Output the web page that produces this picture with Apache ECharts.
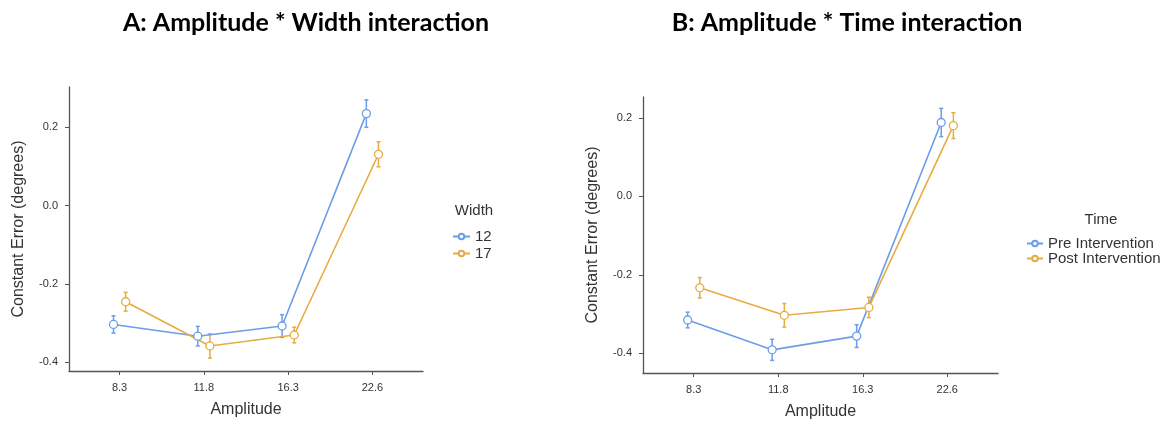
<!DOCTYPE html>
<html>
<head>
<meta charset="utf-8">
<script src="https://cdn.jsdelivr.net/npm/echarts@6/dist/echarts.min.js"></script>
<style>
  html, body { margin: 0; padding: 0; background: #fff; }
  #chart { width: 1173px; height: 421px; }
</style>
</head>
<body>
<div id="chart"></div>
<script>
// amplitude levels on the x axis
const categories = ['8.3', '11.8', '16.3', '22.6']
const yTicks = [-0.4, -0.2, 0, 0.2]

// panel A: Width
const width12Mean = [-0.304, -0.334, -0.308, 0.235]
const width12Err = [0.022, 0.025, 0.029, 0.035]
const width17Mean = [-0.246, -0.359, -0.331, 0.131]
const width17Err = [0.024, 0.031, 0.020, 0.032]

// panel B: Time
const preMean = [-0.315, -0.391, -0.356, 0.188]
const preErr = [0.020, 0.027, 0.029, 0.036]
const postMean = [-0.233, -0.303, -0.283, 0.180]
const postErr = [0.026, 0.030, 0.026, 0.033]

const BLUE = '#6B9DE8'
const ORANGE = '#E6AC40'
const DODGE = 0.072
const FONT = '"Liberation Sans", Arial, sans-serif'

function points(means, shift) {
  return means.map((v, i) => [i + shift, v])
}
function bars(means, errs, shift) {
  return means.map((v, i) => [i + shift, v - errs[i], v + errs[i]])
}

// vertical bar with small caps, drawn under the points
function errorBar(color) {
  return function (params, api) {
    const x = api.value(0)
    const lo = api.coord([x, api.value(1)])
    const hi = api.coord([x, api.value(2)])
    const w = 2
    const st = { stroke: color, lineWidth: 1.5 }
    return {
      type: 'group',
      children: [
        { type: 'line', shape: { x1: lo[0], y1: lo[1], x2: hi[0], y2: hi[1] }, style: st },
        { type: 'line', shape: { x1: lo[0] - w, y1: lo[1], x2: lo[0] + w, y2: lo[1] }, style: st },
        { type: 'line', shape: { x1: hi[0] - w, y1: hi[1], x2: hi[0] + w, y2: hi[1] }, style: st },
      ],
    }
  }
}

function lineSeries(name, idx, data, color) {
  return {
    name: name,
    type: 'line',
    xAxisIndex: idx,
    yAxisIndex: idx,
    data: data,
    z: 3,
    symbol: 'circle',
    symbolSize: 8,
    lineStyle: { color: color, width: 1.6 },
    itemStyle: { color: '#fff', borderColor: color, borderWidth: 1.3 },
    emphasis: { disabled: true },
  }
}

function barSeries(idx, data, color) {
  return {
    type: 'custom',
    xAxisIndex: idx,
    yAxisIndex: idx,
    data: data,
    z: 2,
    encode: { x: 0, y: [1, 2] },
    renderItem: errorBar(color),
  }
}

function xAxis(idx) {
  return {
    type: 'value',
    gridIndex: idx,
    min: -0.6,
    max: 3.6,
    name: 'Amplitude',
    nameLocation: 'middle',
    nameGap: 31,
    nameTextStyle: { fontFamily: FONT, fontSize: 16, color: '#333' },
    splitLine: { show: false },
    axisLine: { onZero: false, lineStyle: { color: '#555', width: 1.3 } },
    axisTick: { customValues: [0, 1, 2, 3], length: 4, lineStyle: { color: '#555' } },
    axisLabel: {
      customValues: [0, 1, 2, 3],
      formatter: (v) => categories[Math.round(v)],
      margin: 11,
      fontFamily: FONT,
      fontSize: 11,
      color: '#333',
    },
  }
}

function yAxis(idx, min, max) {
  return {
    type: 'value',
    gridIndex: idx,
    min: min,
    max: max,
    name: 'Constant Error (degrees)',
    nameLocation: 'middle',
    nameGap: 42,
    nameTextStyle: { fontFamily: FONT, fontSize: 16, color: '#333' },
    splitLine: { show: false },
    axisLine: { show: true, onZero: false, lineStyle: { color: '#555', width: 1.3 } },
    axisTick: { show: true, customValues: yTicks, length: 4, lineStyle: { color: '#555' } },
    axisLabel: {
      customValues: yTicks,
      formatter: (v) => v.toFixed(1),
      margin: 11,
      fontFamily: FONT,
      fontSize: 11,
      color: '#333',
    },
  }
}

const chart = echarts.init(document.getElementById('chart'))

const option = {
  animation: false,
  backgroundColor: '#fff',
  title: [
    { text: 'A: Amplitude * Width interaction', left: 301, top: 5, textAlign: 'center',
      textStyle: { fontFamily: 'Lato, sans-serif', fontWeight: 'bold', fontSize: 25, color: '#000' } },
    { text: 'B: Amplitude * Time interaction', left: 842, top: 5, textAlign: 'center',
      textStyle: { fontFamily: 'Lato, sans-serif', fontWeight: 'bold', fontSize: 25, color: '#000' } },
    { text: 'Width', left: 469, top: 198, textAlign: 'center',
      textStyle: { fontFamily: FONT, fontWeight: 'normal', fontSize: 15, color: '#333' } },
    { text: 'Time', left: 1096, top: 207, textAlign: 'center',
      textStyle: { fontFamily: FONT, fontWeight: 'normal', fontSize: 15, color: '#333' } },
  ],
  legend: [
    {
      data: ['12', '17'],
      orient: 'vertical',
      left: 447,
      top: 224,
      itemWidth: 17,
      itemHeight: 7,
      itemGap: 2,
      textStyle: { fontFamily: FONT, fontSize: 15, color: '#333' },
    },
    {
      data: ['Pre Intervention', 'Post Intervention'],
      orient: 'vertical',
      left: 1021,
      top: 231,
      itemWidth: 16,
      itemHeight: 7,
      itemGap: 0,
      textStyle: { fontFamily: FONT, fontSize: 15, color: '#333', lineHeight: 14 },
    },
  ],
  grid: [
    { left: 69, top: 87, width: 354, height: 284, outerBoundsMode: 'none' },
    { left: 643, top: 97, width: 355, height: 276, outerBoundsMode: 'none' },
  ],
  xAxis: [xAxis(0), xAxis(1)],
  yAxis: [yAxis(0, -0.423, 0.303), yAxis(1, -0.45, 0.253)],
  series: [
    barSeries(0, bars(width12Mean, width12Err, -DODGE), BLUE),
    barSeries(0, bars(width17Mean, width17Err, DODGE), ORANGE),
    lineSeries('12', 0, points(width12Mean, -DODGE), BLUE),
    lineSeries('17', 0, points(width17Mean, DODGE), ORANGE),
    barSeries(1, bars(preMean, preErr, -DODGE), BLUE),
    barSeries(1, bars(postMean, postErr, DODGE), ORANGE),
    lineSeries('Pre Intervention', 1, points(preMean, -DODGE), BLUE),
    lineSeries('Post Intervention', 1, points(postMean, DODGE), ORANGE),
  ],
}

chart.setOption(option)

window.addEventListener('resize', function () {
  chart.resize()
})
</script>
</body>
</html>
